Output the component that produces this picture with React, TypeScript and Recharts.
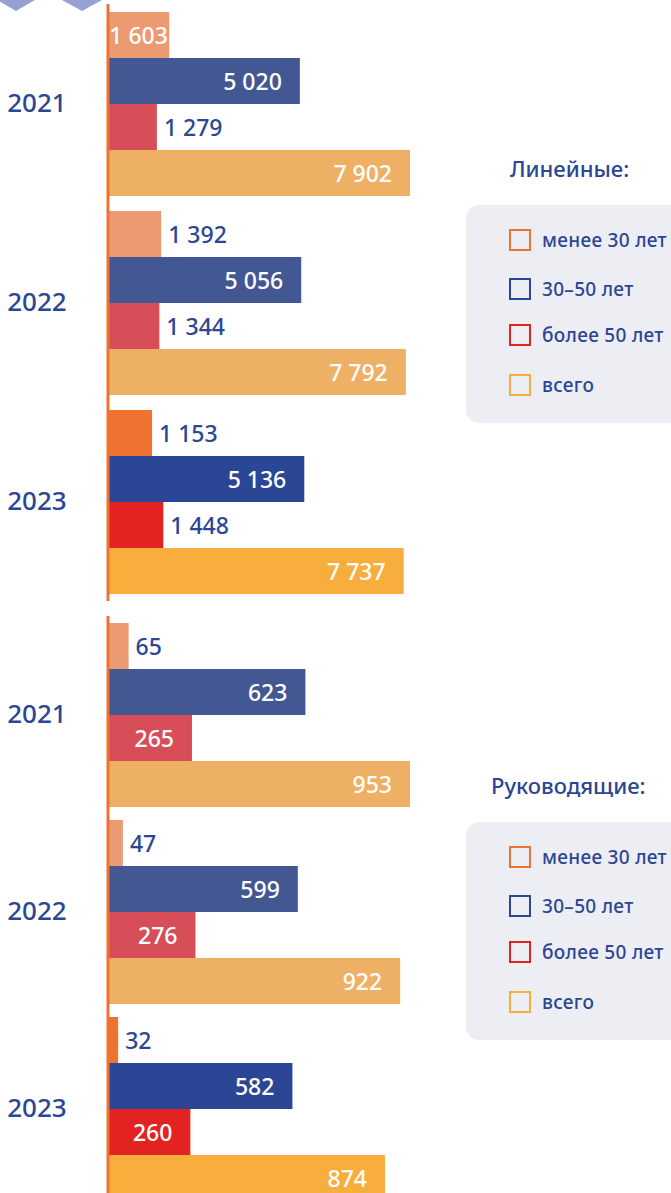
import { BarChart, Bar, Cell, XAxis, YAxis, LabelList } from "recharts";

const years = ["2021", "2022", "2023"];
const seriesNames = ["менее 30 лет", "30–50 лет", "более 50 лет", "всего"];

// Линейные
const linearUnder30 = [1603, 1392, 1153];
const linear30to50 = [5020, 5056, 5136];
const linearOver50 = [1279, 1344, 1448];
const linearTotal = [7902, 7792, 7737];

// Руководящие
const mgmtUnder30 = [65, 47, 32];
const mgmt30to50 = [623, 599, 582];
const mgmtOver50 = [265, 276, 260];
const mgmtTotal = [953, 922, 874];

const keys = ["under30", "mid", "over50", "total"];
// last year bright, earlier years muted
const brightColors = ["#EE7330", "#2B4694", "#E32321", "#F7AE3C"];
const mutedColors = ["#EC9A72", "#435893", "#D74E58", "#EDB065"];

const TEXT_BLUE = "#2B4694";
const FONT = "'Noto Sans', sans-serif";
const LABEL_SIZE = 23;

function buildRows(a: number[], b: number[], c: number[], d: number[]) {
  return years.map((year, i) => ({
    year,
    under30: a[i],
    mid: b[i],
    over50: c[i],
    total: d[i],
  }));
}

const linearRows = buildRows(linearUnder30, linear30to50, linearOver50, linearTotal);
const mgmtRows = buildRows(mgmtUnder30, mgmt30to50, mgmtOver50, mgmtTotal);

function fmt(v: number) {
  return String(v).replace(/\B(?=(\d{3})+(?!\d))/g, " ");
}

function textWidth(s: string) {
  let w = 0;
  for (const ch of s) w += ch === " " ? 0.26 * LABEL_SIZE : 0.572 * LABEL_SIZE;
  return w;
}

function ValueLabel(props: any) {
  const { x, y, width, height, value } = props;
  const text = fmt(Number(value));
  const tw = textWidth(text);
  const cy = y + height / 2;
  const inside = width - tw >= 1;
  const pad = Math.min(18, (width - tw) / 2);
  return (
    <text
      x={inside ? x + width - pad : x + width + 7}
      y={cy}
      textAnchor={inside ? "end" : "start"}
      dominantBaseline="central"
      fill={inside ? "#fff" : TEXT_BLUE}
      fontSize={LABEL_SIZE}
      fontWeight={500}
      fontFamily={FONT}
    >
      {text}
    </text>
  );
}

function YearTick(props: any) {
  return (
    <text
      x={37}
      y={props.y - 2}
      textAnchor="middle"
      dominantBaseline="central"
      fill={TEXT_BLUE}
      fontSize={26}
      fontWeight={500}
      fontFamily={FONT}
    >
      {props.payload.value}
    </text>
  );
}

function GroupChart({ rows, height }: { rows: any[]; height: number }) {
  return (
    <BarChart
      width={410}
      height={height}
      data={rows}
      layout="vertical"
      margin={{ top: 4, right: 0, bottom: 0, left: 0 }}
      barSize={46}
      barGap={0}
    >
      <XAxis type="number" domain={[0, "dataMax"]} hide />
      <YAxis
        type="category"
        dataKey="year"
        width={108}
        tickLine={false}
        axisLine={{ stroke: "#EE7330", strokeWidth: 3 }}
        tick={<YearTick />}
      />
      {keys.map((k, si) => (
        <Bar key={k} dataKey={k} name={seriesNames[si]} isAnimationActive={false}>
          {rows.map((_, i) => (
            <Cell
              key={i}
              fill={i === rows.length - 1 ? brightColors[si] : mutedColors[si]}
            />
          ))}
          <LabelList dataKey={k} content={<ValueLabel />} />
        </Bar>
      ))}
    </BarChart>
  );
}

function LegendPanel({ title, top, titleLeft }: { title: string; top: number; titleLeft: number }) {
  return (
    <>
      <div
        style={{
          position: "absolute",
          left: titleLeft,
          top: top - 52,
          fontSize: 22,
          fontWeight: 500,
          color: TEXT_BLUE,
          fontFamily: FONT,
          lineHeight: "30px",
          whiteSpace: "nowrap",
        }}
      >
        {title}
      </div>
      <div
        style={{
          position: "absolute",
          left: 466,
          top,
          width: 240,
          height: 218,
          background: "#EDEEF3",
          borderRadius: 13,
        }}
      >
        {seriesNames.map((name, i) => (
          <div
            key={name}
            style={{
              position: "absolute",
              left: 43,
              top: 23 + [0, 49, 95, 145][i],
              display: "flex",
              alignItems: "center",
              height: 23,
            }}
          >
            <div
              style={{
                width: 18,
                height: 18,
                border: `2.5px solid ${brightColors[i]}`,
                marginRight: 11,
                flexShrink: 0,
              }}
            />
            <span
              style={{
                fontSize: 19,
                fontWeight: 500,
                color: TEXT_BLUE,
                fontFamily: FONT,
                whiteSpace: "nowrap",
                letterSpacing: 0.3,
              }}
            >
              {name}
            </span>
          </div>
        ))}
      </div>
    </>
  );
}

function Chevron({ left, width }: { left: number; width: number }) {
  return (
    <div
      style={{
        position: "absolute",
        left,
        top: 0,
        width: 0,
        height: 0,
        borderLeft: `${width / 2}px solid transparent`,
        borderRight: `${width / 2}px solid transparent`,
        borderTop: "11px solid #97A2D2",
        zIndex: 3,
      }}
    />
  );
}

export default function App() {
  return (
    <div
      style={{
        position: "fixed",
        left: 0,
        top: 0,
        width: 671,
        height: 1193,
        overflow: "hidden",
        background: "#fff",
      }}
    >
      <div style={{ position: "absolute", left: 0, top: 0 }}>
        <GroupChart rows={linearRows} height={601} />
      </div>
      <div style={{ position: "absolute", left: 0, top: 612 }}>
        <GroupChart rows={mgmtRows} height={595} />
      </div>
      <Chevron left={-3} width={38} />
      <Chevron left={62} width={41} />
      <LegendPanel title="Линейные:" top={205} titleLeft={510} />
      <LegendPanel title="Руководящие:" top={822} titleLeft={491} />
    </div>
  );
}
